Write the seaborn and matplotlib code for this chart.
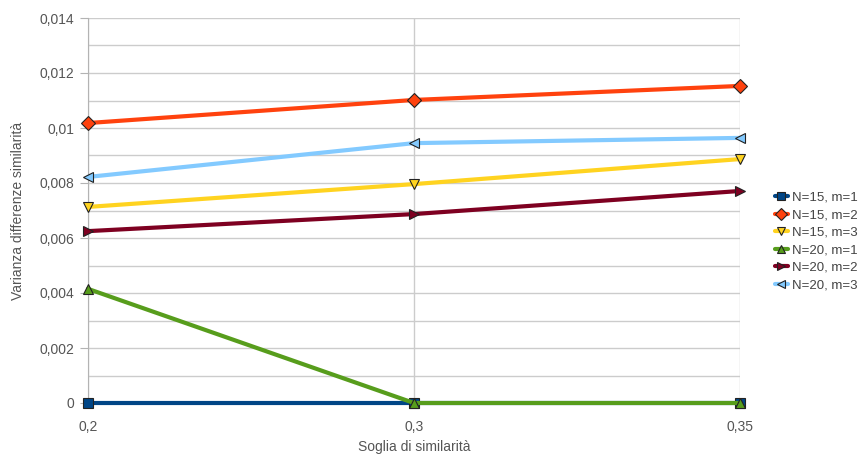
import numpy as np
import pandas as pd
import matplotlib
matplotlib.use('Agg')
import matplotlib.pyplot as plt
import seaborn as sns
from matplotlib.ticker import MultipleLocator, FuncFormatter

sns.set_style('white')
plt.rcParams['font.family'] = ['Liberation Sans', 'DejaVu Sans']

# dati
soglie = ['0,2', '0,3', '0,35']
serie = ['N=15, m=1', 'N=15, m=2', 'N=15, m=3', 'N=20, m=1', 'N=20, m=2', 'N=20, m=3']
n15_m1 = [0.0, 0.0, 0.0]
n15_m2 = [0.01018, 0.01102, 0.01153]
n15_m3 = [0.00713, 0.00796, 0.00887]
n20_m1 = [0.00415, 0.0, 0.0]
n20_m2 = [0.00625, 0.00687, 0.00771]
n20_m3 = [0.00822, 0.00945, 0.00964]

colori = ['#004586', '#ff420e', '#ffd320', '#579d1c', '#7e0021', '#83caff']
marker = ['s', 'D', 'v', '^', '>', '<']

valori = [n15_m1, n15_m2, n15_m3, n20_m1, n20_m2, n20_m3]
righe = []
for nome, vals in zip(serie, valori):
    for i, v in enumerate(vals):
        righe.append({'serie': nome, 'x': i, 'y': v})
df = pd.DataFrame(righe)

fig = plt.figure(figsize=(8.63, 4.59), dpi=100)
ax = fig.add_axes([88 / 863, 56 / 459, 652 / 863, 385 / 459])

sns.lineplot(data=df, x='x', y='y', hue='serie', style='serie',
             palette=colori, markers=marker, dashes=False,
             linewidth=3, markersize=7.5, markeredgecolor='#222222',
             markeredgewidth=0.8, ax=ax, legend=True)
for ln in ax.lines:
    ln.set_clip_on(False)
    ln.set_zorder(3)

ax.set_xlim(0, 2)
ax.set_ylim(0, 0.014)
ax.set_xticks([0, 1, 2])
ax.set_xticklabels(soglie)
ax.yaxis.set_major_locator(MultipleLocator(0.002))
ax.yaxis.set_minor_locator(MultipleLocator(0.001))
ax.yaxis.set_major_formatter(FuncFormatter(
    lambda v, p: '0' if v == 0 else ('%g' % round(v, 4)).replace('.', ',')))

ax.grid(True, which='both', axis='y', color='#cccccc', linewidth=1)
ax.grid(True, which='major', axis='x', color='#cccccc', linewidth=1)
ax.set_axisbelow(True)

for s in ['top', 'right']:
    ax.spines[s].set_visible(False)
ax.spines['left'].set_color('#b3b3b3')
ax.spines['bottom'].set_color('#b3b3b3')
ax.spines['left'].set_zorder(1)
ax.spines['bottom'].set_zorder(1)
ax.tick_params(axis='y', which='major', left=True, length=6, color='#b3b3b3',
               labelsize=10, labelcolor='#555555', pad=4)
ax.tick_params(axis='x', bottom=False, labelsize=10, labelcolor='#555555', pad=9)

ax.set_xlabel('Soglia di similarità', fontsize=10, color='#555555', labelpad=4)
ax.set_ylabel('Varianza differenze similarità', fontsize=10, color='#555555', labelpad=10)

leg = ax.legend(loc='center left', bbox_to_anchor=(1.045, 0.42), frameon=False,
                fontsize=9.5, labelcolor='#444444', handlelength=1.0,
                handletextpad=0.3, labelspacing=0.4, borderaxespad=0)
for h in leg.legend_handles:
    h.set_linewidth(3)
    h.set_markersize(6)

fig.savefig('out.png', dpi=100)
